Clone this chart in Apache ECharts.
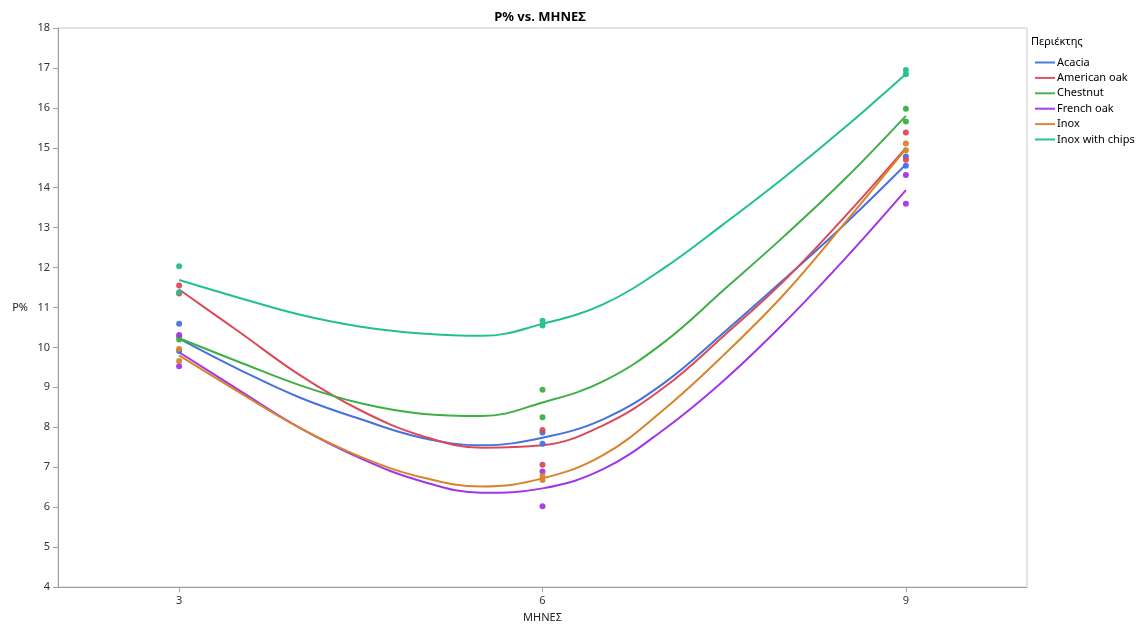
<!DOCTYPE html>
<html>
<head>
<meta charset="utf-8">
<script src="https://cdn.jsdelivr.net/npm/echarts@6/dist/echarts.min.js"></script>
<style>html,body{margin:0;padding:0;background:#fff}#c{width:1147px;height:628px}</style>
</head>
<body>
<div id="c"></div>
<script>
// ---- data ----
const groups = ["Acacia", "American oak", "Chestnut", "French oak", "Inox", "Inox with chips"];
const colors = ["#4572E0", "#DB4A57", "#3DAF45", "#A236E6", "#D8842B", "#22BF90"];
const pointMonths = [3, 3, 6, 6, 9, 9];
// replicate measurements per group (month 3, 3, 6, 6, 9, 9)
const acaciaPts      = [10.59, 9.91, 7.87, 7.59, 14.78, 14.55];
const americanOakPts = [11.55, 11.35, 7.93, 7.06, 15.38, 14.70];
const chestnutPts    = [10.27, 10.20, 8.94, 8.25, 15.98, 15.66];
const frenchOakPts   = [10.31, 9.53, 6.89, 6.02, 14.32, 13.60];
const inoxPts        = [9.96, 9.66, 6.78, 6.68, 15.11, 14.94];
const inoxChipsPts   = [12.03, 11.38, 10.67, 10.55, 16.95, 16.84];
// smoothed fit curves
const fitMonths = [3, 3.5, 4, 4.5, 5, 5.5, 6, 6.5, 7, 7.5, 8, 8.5, 9];
const acaciaFit      = [10.22, 9.44, 8.74, 8.20, 7.74, 7.55, 7.74, 8.20, 9.10, 10.38, 11.72, 13.10, 14.58];
const americanOakFit = [11.45, 10.38, 9.30, 8.42, 7.79, 7.49, 7.55, 8.05, 8.99, 10.30, 11.69, 13.29, 15.00];
const chestnutFit    = [10.23, 9.63, 9.05, 8.60, 8.34, 8.28, 8.62, 9.15, 10.12, 11.45, 12.80, 14.23, 15.80];
const frenchOakFit   = [9.88, 8.92, 7.98, 7.22, 6.65, 6.36, 6.47, 6.95, 7.94, 9.18, 10.63, 12.23, 13.94];
const inoxFit        = [9.80, 8.87, 7.98, 7.26, 6.75, 6.52, 6.72, 7.30, 8.44, 9.82, 11.35, 13.13, 14.97];
const inoxChipsFit   = [11.69, 11.24, 10.82, 10.52, 10.35, 10.29, 10.59, 11.08, 11.98, 13.10, 14.27, 15.52, 16.85];
const xTicks = [3, 6, 9];

const allPts = [acaciaPts, americanOakPts, chestnutPts, frenchOakPts, inoxPts, inoxChipsPts];
const allFit = [acaciaFit, americanOakFit, chestnutFit, frenchOakFit, inoxFit, inoxChipsFit];

const FONT = "Noto Sans";
const series = [];
groups.forEach((g, i) => {
  series.push({
    name: g, type: 'scatter', symbolSize: 6,
    itemStyle: {color: colors[i], opacity: 0.95},
    data: pointMonths.map((m, k) => [m, allPts[i][k]]),
    z: 3
  });
});
groups.forEach((g, i) => {
  series.push({
    name: g, type: 'line', smooth: 0.4, showSymbol: false,
    lineStyle: {color: colors[i], width: 2},
    itemStyle: {color: colors[i]},
    data: fitMonths.map((m, k) => [m, allFit[i][k]]),
    z: 2
  });
});

const chart = echarts.init(document.getElementById('c'));
chart.setOption({
  animation: false,
  textStyle: {fontFamily: FONT},
  title: {
    text: 'P% vs. ΜΗΝΕΣ', left: 535, top: 6, textAlign: 'center',
    textStyle: {fontSize: 13, fontWeight: 'bold', color: '#000', fontFamily: FONT}
  },
  legend: {
    orient: 'vertical', left: 1035, top: 57, itemGap: 4.4, padding: 0,
    itemWidth: 20, itemHeight: 2, icon: 'rect',
    textStyle: {fontSize: 11, color: '#000', padding: [0, 0, 0, -3]},
    data: groups.map((g, i) => ({name: g, itemStyle: {color: colors[i]}}))
  },
  graphic: [{
    type: 'text', left: 1031, top: 36,
    style: {text: 'Περιέκτης', fontSize: 11, fill: '#000', fontFamily: FONT}
  }],
  grid: {left: 58, right: 120, top: 28, bottom: 38, show: true, borderColor: '#c8c8c8', borderWidth: 1},
  xAxis: {
    type: 'value', min: 2, max: 10,
    name: 'ΜΗΝΕΣ', nameLocation: 'middle', nameGap: 25,
    nameTextStyle: {fontSize: 11, color: '#222'},
    axisLine: {show: true, lineStyle: {color: '#a0a0a0'}},
    axisTick: {show: true, customValues: xTicks, length: 5, lineStyle: {color: '#a0a0a0'}},
    axisLabel: {customValues: xTicks, fontSize: 11, color: '#333', margin: 8},
    splitLine: {show: false}
  },
  yAxis: {
    type: 'value', min: 4, max: 18, interval: 1,
    name: 'P%', nameLocation: 'middle', nameRotate: 0, nameGap: 30,
    nameTextStyle: {fontSize: 11, color: '#222'},
    axisLine: {show: true, lineStyle: {color: '#a0a0a0'}},
    axisTick: {show: true, length: 5, lineStyle: {color: '#a0a0a0'}},
    axisLabel: {fontSize: 11, color: '#333', margin: 8},
    splitLine: {show: false}
  },
  series: series
});
</script>
</body>
</html>
